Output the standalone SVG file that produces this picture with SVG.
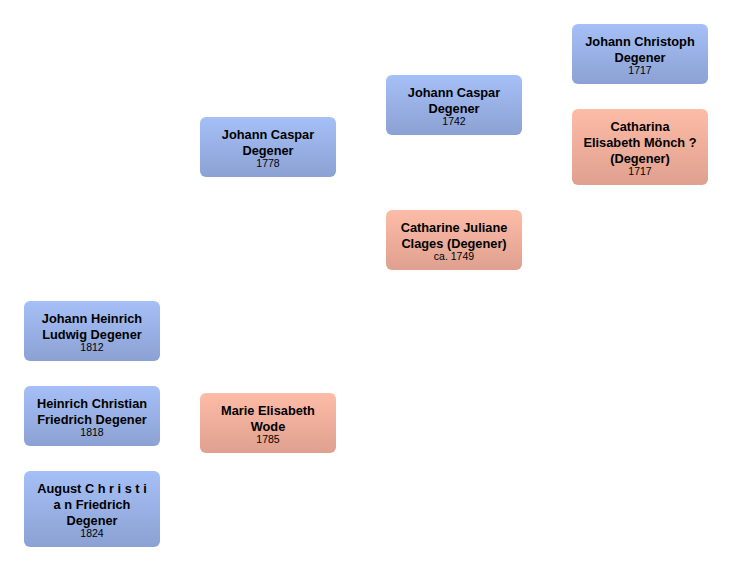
<svg xmlns="http://www.w3.org/2000/svg" width="732" height="572" viewBox="0 0 732 572">
<defs>
<linearGradient id="gm" x1="0" y1="0" x2="0" y2="1">
<stop offset="0" stop-color="#a5c0f7"/>
<stop offset="1" stop-color="#8ca1d3"/>
</linearGradient>
<linearGradient id="gf" x1="0" y1="0" x2="0" y2="1">
<stop offset="0" stop-color="#fdbca7"/>
<stop offset="1" stop-color="#dfa08f"/>
</linearGradient>
<style>
.m{fill:url(#gm);}
.f{fill:url(#gf);}
.n{font-family:"Liberation Sans",Arial,sans-serif;font-weight:bold;font-size:12.8px;fill:#000;text-anchor:middle;}
.y{font-family:"Liberation Sans",Arial,sans-serif;font-size:10.5px;fill:#000;text-anchor:middle;}
</style>
</defs>
<rect width="732" height="572" fill="#fff"/>
<g id="connectors"></g>
<g id="n1"><rect class="m" x="24" y="301" width="136" height="60" rx="6"/>
<text class="n" x="92" y="323">Johann Heinrich</text><text class="n" x="92" y="339">Ludwig Degener</text><text class="y" x="92" y="351">1812</text></g>
<g id="n2"><rect class="m" x="24" y="386" width="136" height="60" rx="6"/>
<text class="n" x="92" y="408">Heinrich Christian</text><text class="n" x="92" y="424">Friedrich Degener</text><text class="y" x="92" y="436">1818</text></g>
<g id="n3"><rect class="m" x="24" y="471" width="136" height="76" rx="6"/>
<text class="n" x="92" y="493">August C h r i s t i</text><text class="n" x="92" y="509">a n Friedrich</text><text class="n" x="92" y="525">Degener</text><text class="y" x="92" y="537">1824</text></g>
<g id="n4"><rect class="m" x="200" y="117" width="136" height="60" rx="6"/>
<text class="n" x="268" y="139">Johann Caspar</text><text class="n" x="268" y="155">Degener</text><text class="y" x="268" y="167">1778</text></g>
<g id="n5"><rect class="f" x="200" y="393" width="136" height="60" rx="6"/>
<text class="n" x="268" y="415">Marie Elisabeth</text><text class="n" x="268" y="431">Wode</text><text class="y" x="268" y="443">1785</text></g>
<g id="n6"><rect class="m" x="386" y="75" width="136" height="60" rx="6"/>
<text class="n" x="454" y="97">Johann Caspar</text><text class="n" x="454" y="113">Degener</text><text class="y" x="454" y="125">1742</text></g>
<g id="n7"><rect class="f" x="386" y="210" width="136" height="60" rx="6"/>
<text class="n" x="454" y="232">Catharine Juliane</text><text class="n" x="454" y="248">Clages (Degener)</text><text class="y" x="454" y="260">ca. 1749</text></g>
<g id="n8"><rect class="m" x="572" y="24" width="136" height="60" rx="6"/>
<text class="n" x="640" y="46">Johann Christoph</text><text class="n" x="640" y="62">Degener</text><text class="y" x="640" y="74">1717</text></g>
<g id="n9"><rect class="f" x="572" y="109" width="136" height="76" rx="6"/>
<text class="n" x="640" y="131">Catharina</text><text class="n" x="640" y="147">Elisabeth Mönch ?</text><text class="n" x="640" y="163">(Degener)</text><text class="y" x="640" y="175">1717</text></g>
</svg>
